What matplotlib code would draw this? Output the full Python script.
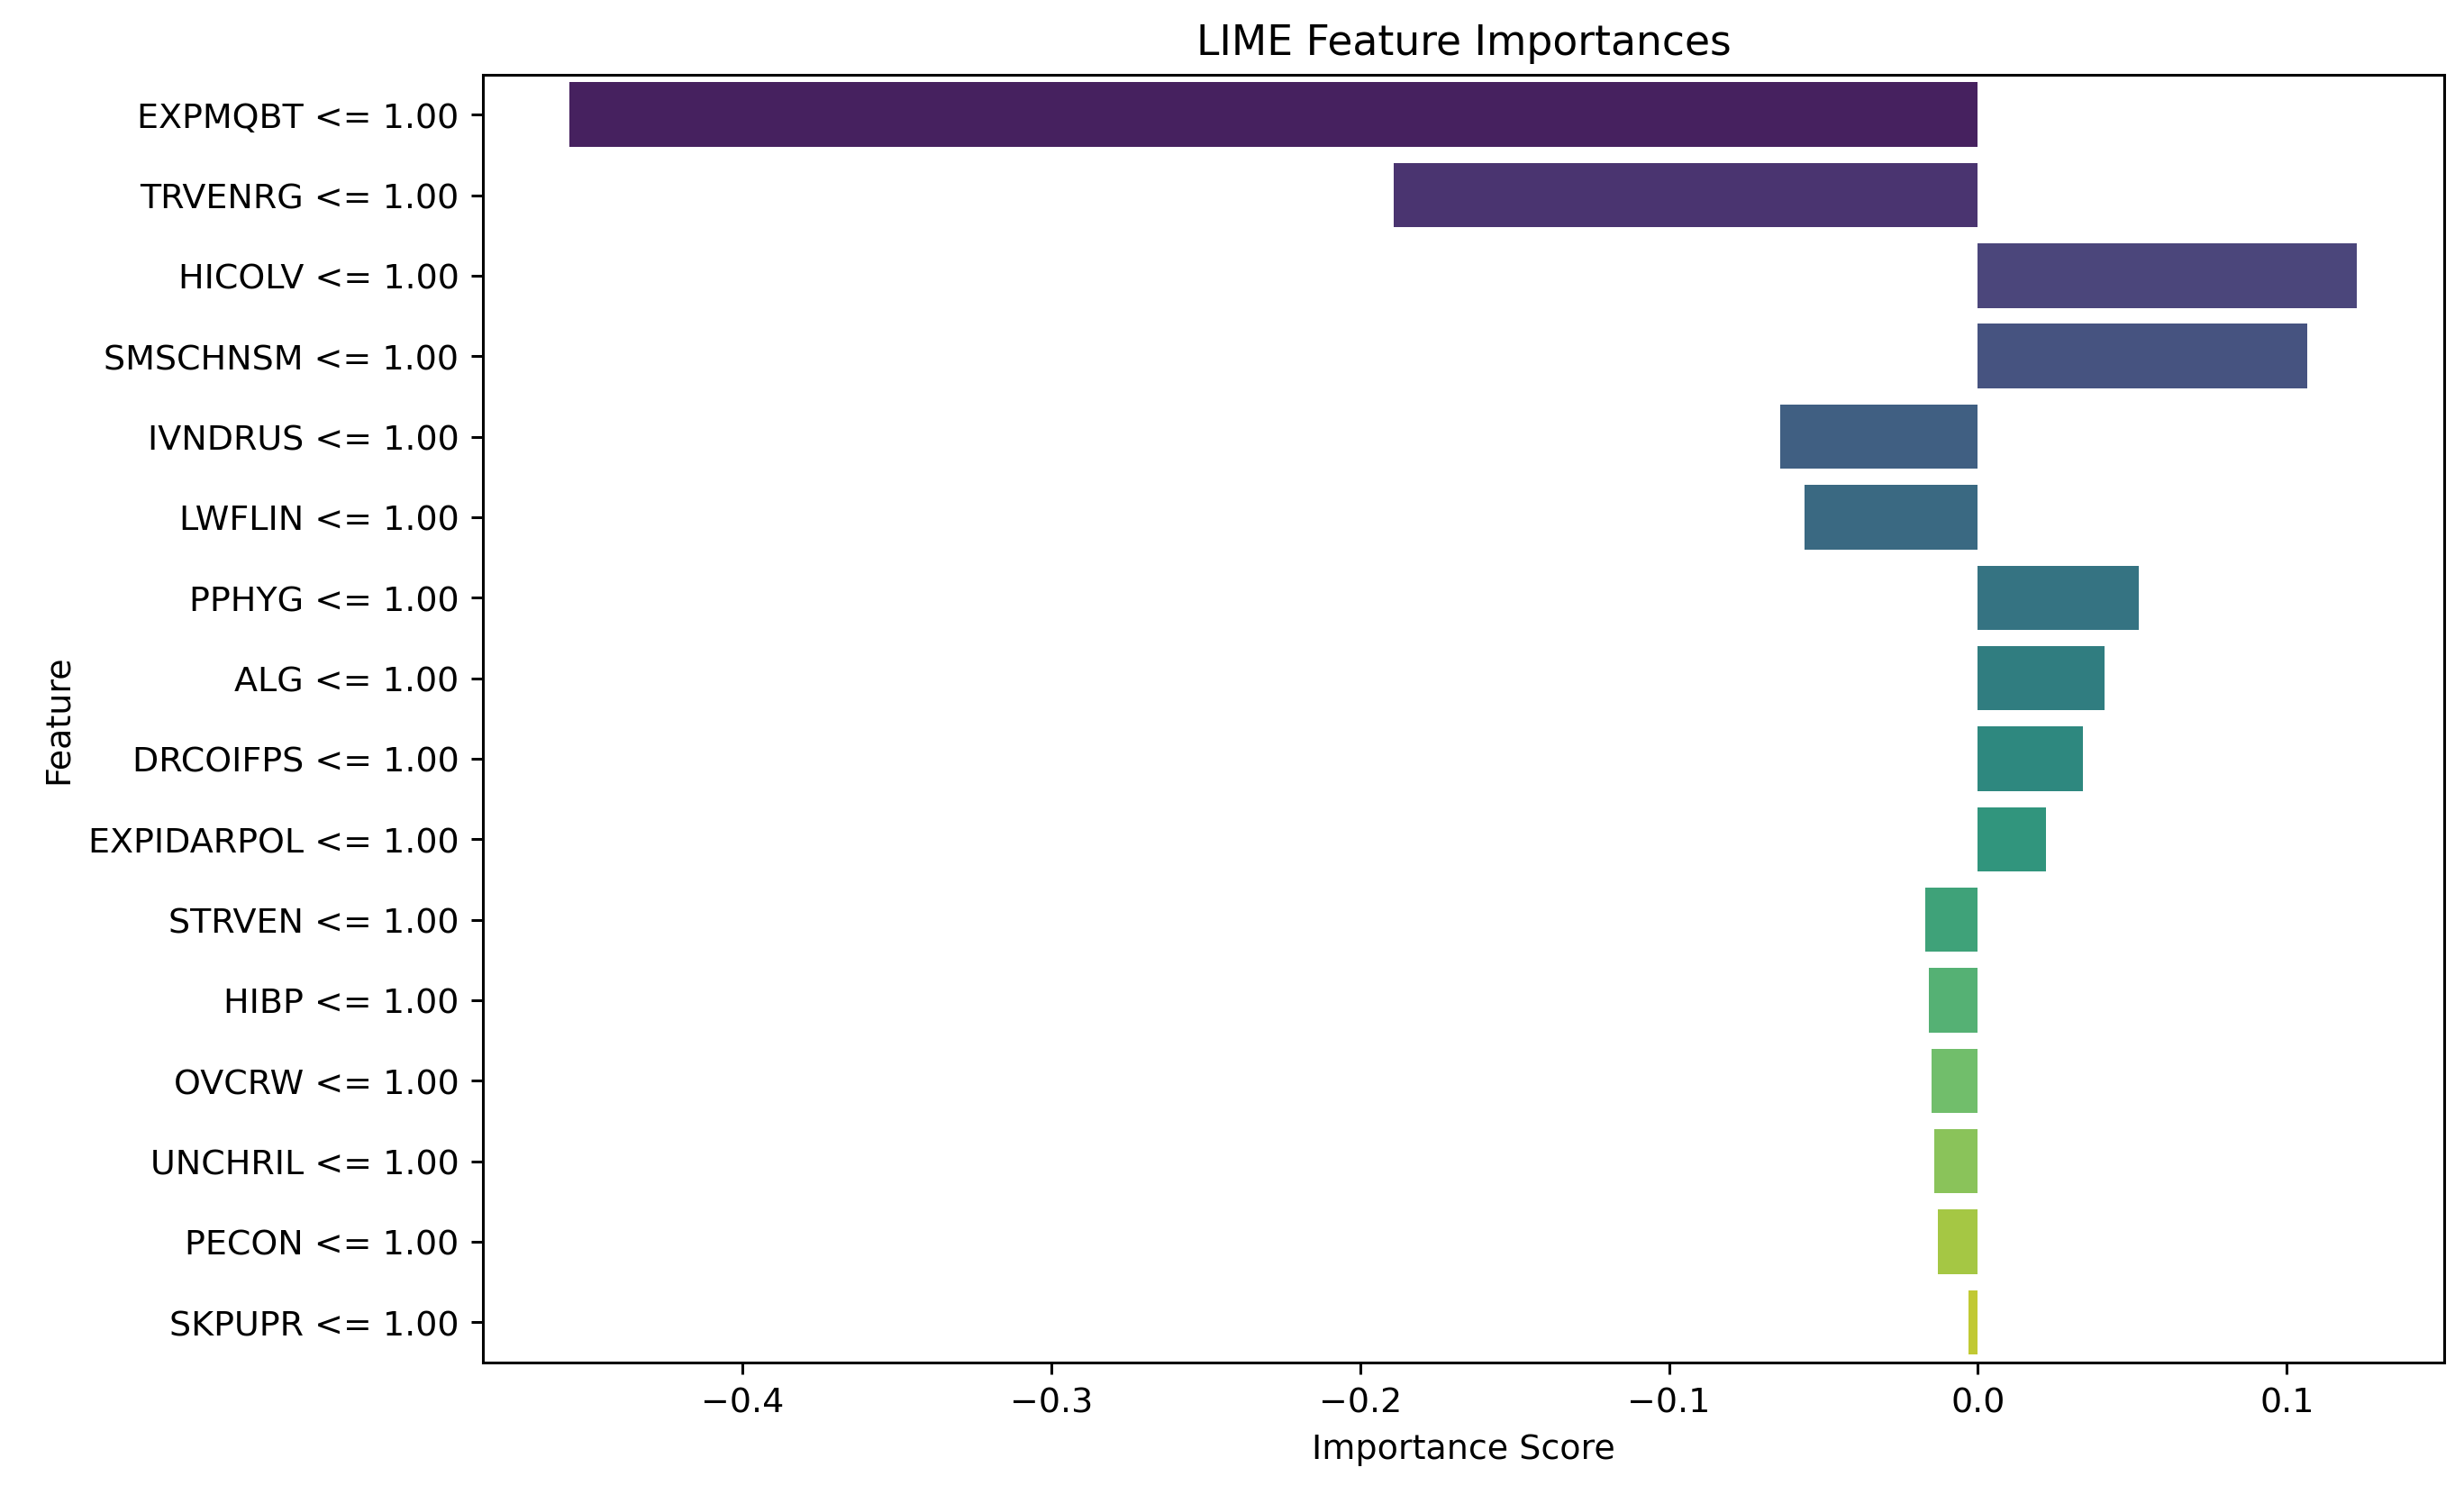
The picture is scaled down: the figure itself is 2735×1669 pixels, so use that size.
import matplotlib
matplotlib.use("Agg")
import matplotlib.pyplot as plt
import seaborn as sns

features = ["EXPMQBT <= 1.00", "TRVENRG <= 1.00", "HICOLV <= 1.00", "SMSCHNSM <= 1.00",
            "IVNDRUS <= 1.00", "LWFLIN <= 1.00", "PPHYG <= 1.00", "ALG <= 1.00",
            "DRCOIFPS <= 1.00", "EXPIDARPOL <= 1.00", "STRVEN <= 1.00", "HIBP <= 1.00",
            "OVCRW <= 1.00", "UNCHRIL <= 1.00", "PECON <= 1.00", "SKPUPR <= 1.00"]
scores = [-0.456, -0.189, 0.1226, 0.1067, -0.064, -0.056, 0.052, 0.041,
          0.034, 0.022, -0.017, -0.016, -0.015, -0.014, -0.013, -0.003]

fig = plt.figure(figsize=(10, 6.106), dpi=273.5)
ax = fig.add_axes([0.196, 0.094, 0.796, 0.856])
# seaborn barplot style: viridis palette, desaturated to 0.75
colors = [sns.desaturate(c, 0.75) for c in sns.color_palette("viridis", len(features))]
ax.barh(range(len(features)), scores, color=colors, height=0.8)
ax.set_yticks(range(len(features)))
ax.set_yticklabels(features)
ax.set_ylim(len(features) - 0.5, -0.5)
ax.set_xlim(-0.484, 0.151)
ax.set_xlabel("Importance Score")
ax.set_ylabel("Feature")
ax.set_title("LIME Feature Importances")
fig.savefig("out.png", dpi=273.5)
plt.close(fig)
